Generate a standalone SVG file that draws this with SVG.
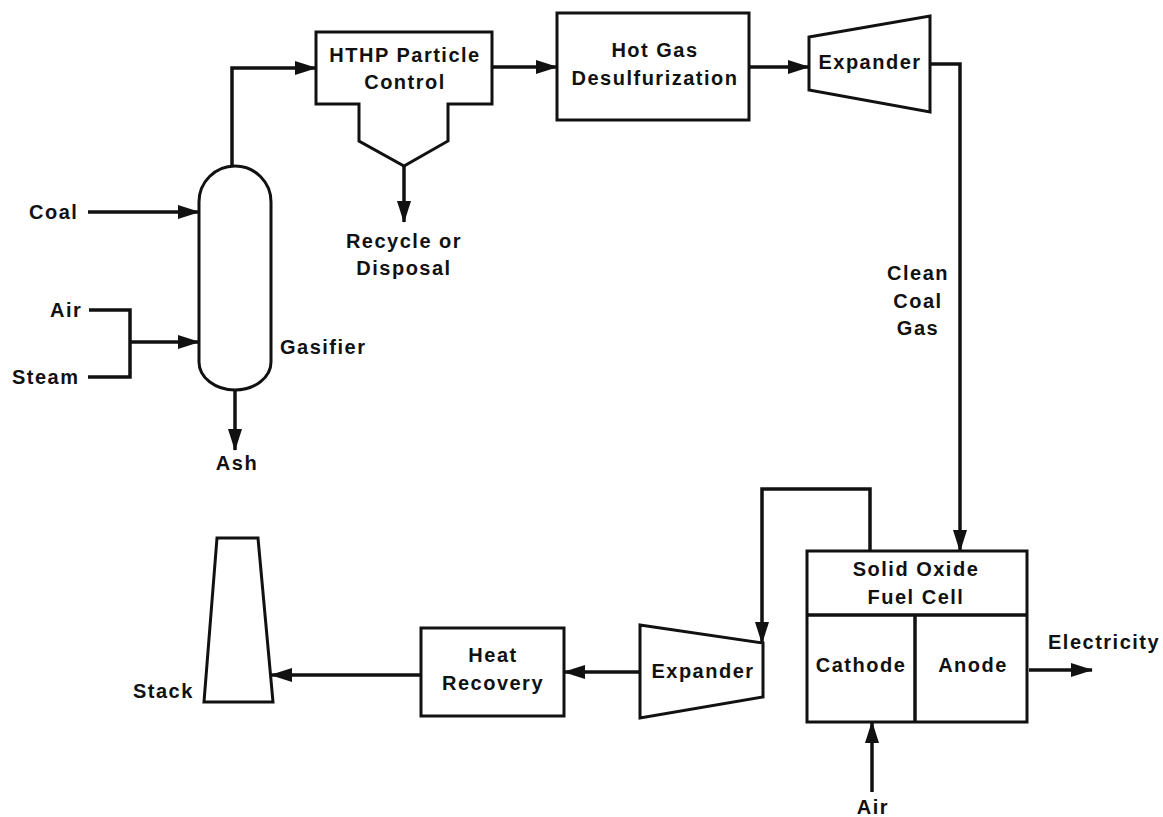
<svg xmlns="http://www.w3.org/2000/svg" width="1163" height="817" viewBox="0 0 1163 817">
<defs>
<style>
text{font-family:"Liberation Sans",Arial,sans-serif;font-weight:bold;font-size:20px;letter-spacing:1.5px;fill:#111;}
.m{text-anchor:middle;}
.shape{fill:#fff;stroke:#111;stroke-width:3;stroke-linejoin:miter;}
.line{fill:none;stroke:#111;stroke-width:3.5;}
.conn{fill:none;stroke:#111;stroke-width:3.5;marker-end:url(#ah);}
</style>
<marker id="ah" markerUnits="userSpaceOnUse" markerWidth="22" markerHeight="14" refX="21" refY="7" orient="auto">
<path d="M0,0 L22,7 L0,14 z" fill="#111"/>
</marker>
</defs>
<rect width="1163" height="817" fill="#fff"/>

<g id="connectors">
<path class="conn" d="M88,212 H199"/>
<path class="line" d="M89,310 H130 V377 H88"/>
<path class="conn" d="M130,342 H199"/>
<path class="conn" d="M235,390 V450"/>
<path class="conn" d="M232,166 V68 H316"/>
<path class="conn" d="M404,166 V222"/>
<path class="conn" d="M492,67 H557"/>
<path class="conn" d="M749,67 H809"/>
<path class="conn" d="M930,64 H960 V551"/>
<path class="conn" d="M870,551 V489 H762 V643"/>
<path class="conn" d="M640,672 H564"/>
<path class="conn" d="M421,675 H271"/>
<path class="conn" d="M1029,670 H1092"/>
<path class="conn" d="M872,792 V722"/>
</g>

<g id="coal"><text x="29" y="219">Coal</text></g>
<g id="air-in"><text x="50" y="317">Air</text></g>
<g id="steam"><text x="12" y="384">Steam</text></g>

<g id="gasifier">
<path class="shape" d="M199,202 A36,36 0 0 1 271,202 L271,362 A36,28 0 0 1 199,362 Z"/>
<text x="280" y="354">Gasifier</text>
</g>
<g id="ash"><text class="m" x="237" y="470">Ash</text></g>

<g id="hthp">
<path class="shape" d="M316,32 H492 V104 H448 V141 L404,166 L359,141 V104 H316 Z"/>
<text class="m" x="405" y="62">HTHP Particle</text>
<text class="m" x="405" y="89">Control</text>
</g>
<g id="recycle">
<text class="m" x="404" y="248">Recycle or</text>
<text class="m" x="404" y="275">Disposal</text>
</g>

<g id="hotgas">
<rect class="shape" x="557" y="13" width="192" height="107"/>
<text class="m" x="655" y="57">Hot Gas</text>
<text class="m" x="655" y="85">Desulfurization</text>
</g>

<g id="expander1">
<path class="shape" d="M809,37 L930,16 L930,112 L809,90 Z"/>
<text class="m" x="870" y="69">Expander</text>
</g>

<g id="cleangas">
<text class="m" x="918" y="280">Clean</text>
<text class="m" x="918" y="308">Coal</text>
<text class="m" x="918" y="335">Gas</text>
</g>

<g id="sofc">
<rect class="shape" x="807" y="551" width="220" height="171"/>
<path class="line" d="M807,615 H1027 M915,615 V722" stroke-width="3"/>
<text class="m" x="916" y="576">Solid Oxide</text>
<text class="m" x="916" y="604">Fuel Cell</text>
<text class="m" x="861" y="672">Cathode</text>
<text class="m" x="973" y="672">Anode</text>
</g>

<g id="electricity"><text x="1048" y="649">Electricity</text></g>
<g id="air-out"><text class="m" x="873" y="814">Air</text></g>

<g id="expander2">
<path class="shape" d="M640,625 L763,643 L763,697 L640,718 Z"/>
<text class="m" x="703" y="678">Expander</text>
</g>

<g id="heatrecovery">
<rect class="shape" x="421" y="628" width="143" height="88"/>
<text class="m" x="493" y="662">Heat</text>
<text class="m" x="493" y="690">Recovery</text>
</g>

<g id="stack">
<path class="shape" d="M217,538 L258,538 L273,702 L204,702 Z"/>
<text x="133" y="698">Stack</text>
</g>
</svg>
